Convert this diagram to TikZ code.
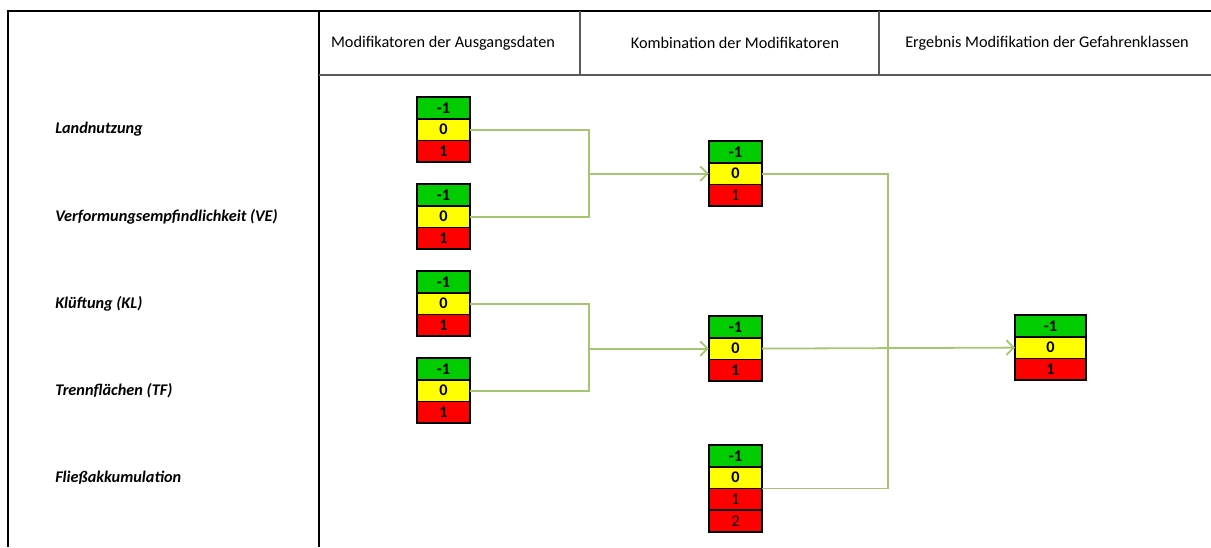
\documentclass[tikz,border=0pt]{standalone}
\usepackage{fontspec}
\setmainfont{Carlito}
\usetikzlibrary{positioning, arrows.meta}
\definecolor{cgreen}{RGB}{0,204,0}
\definecolor{cyellow}{RGB}{255,255,0}
\definecolor{cred}{RGB}{255,0,0}
\definecolor{linkgreen}{RGB}{165,197,115}
\definecolor{gridgray}{RGB}{90,90,90}

\begin{document}
\begin{tikzpicture}[
  x=0.75pt, y=-0.75pt,
  cell/.style={draw, line width=1.4pt, outer sep=0pt, inner sep=0pt, minimum width=40pt, minimum height=16.3pt, font=\fontsize{12.2}{14}\selectfont\bfseries},
  negcell/.style={cell, fill=cgreen},
  zerocell/.style={cell, fill=cyellow},
  poscell/.style={cell, fill=cred},
  plaincell/.style={poscell, font=\fontsize{12.2}{14}\selectfont},
  wide/.style={minimum width=53.25pt},
  head/.style={font=\fontsize{12.2}{14}\selectfont},
  rowlab/.style={anchor=west, inner sep=0pt, font=\fontsize{12.2}{14}\selectfont\bfseries\itshape},
  link/.style={draw=linkgreen, line width=1.35pt},
  op/.style={link, -{Straight Barb[length=5.5pt, width=11pt]}}
]
  \useasboundingbox (0,0) rectangle (1211,547);

  % table frame
  \draw[line width=1.5pt] (8,547) -- (8,11) -- (1211,11);
  \draw[line width=1.5pt] (319,11) -- (319,547);
  \draw[gridgray, line width=1pt] (319,75) -- (1211,75);
  \draw[gridgray, line width=1pt] (580,11) -- (580,75);
  \draw[gridgray, line width=1pt] (879,11) -- (879,75);

  \node[head] (h1) at (443,43) {Modifikatoren der Ausgangsdaten};
  \node[head] (h2) at (735,43) {Kombination der Modifikatoren};
  \node[head] (h3) at (1047,43) {Ergebnis Modifikation der Gefahrenklassen};

  % modifier boxes
  \foreach \n/\x/\y/\s in {l1/443.5/97/poscell, l2/443.5/184/poscell, l3/443.5/271/poscell, l4/443.5/358/poscell,
                           m1/735.5/141/plaincell, m2/735.5/316/poscell} {
    \node[negcell, anchor=north] (\n-m) at (\x,\y) {-1};
    \node[zerocell, below=0pt of \n-m] (\n-z) {0};
    \node[\s, below=0pt of \n-z] (\n-p) {1};
  }
  \node[negcell, anchor=north] (m3-m) at (735.5,445) {-1};
  \node[zerocell, below=0pt of m3-m] (m3-z) {0};
  \node[plaincell, below=0pt of m3-z] (m3-p) {1};
  \node[plaincell, below=0pt of m3-p] (m3-q) {2};

  \node[negcell, wide, anchor=north] (r-m) at (1050.5,315) {-1};
  \node[zerocell, wide, below=0pt of r-m] (r-z) {0};
  \node[poscell, wide, below=0pt of r-z] (r-p) {1};

  % row labels
  \coordinate (labx) at (55,0);
  \node[rowlab] (landn) at (labx |- l1-z) {Landnutzung};
  \node[rowlab] (verf) at (labx |- l2-z) {Verformungsempfindlichkeit (VE)};
  \node[rowlab] (kluft) at (labx |- l3-z) {Klüftung (KL)};
  \node[rowlab] (trenn) at (labx |- l4-z) {Trennflächen (TF)};
  \node[rowlab] (fliess) at (labx |- m3-z) {Fließakkumulation};

  % connections
  \path (m1-z.west) ++(-120,0) coordinate (j1);
  \path (m2-z.west) ++(-120,0) coordinate (j2);
  \path (m2-z.east) ++(126,0) coordinate (j3);
  \draw[link] (l1-z.east) -| (j1);
  \draw[link] (l2-z.east) -| (j1);
  \draw[op] (j1) -- (m1-z.west);
  \draw[link] (l3-z.east) -| (j2);
  \draw[link] (l4-z.east) -| (j2);
  \draw[op] (j2) -- (m2-z.west);
  \draw[link] (m1-z.east) -| (j3) |- (m3-z.south east);
  \draw[op] (m2-z.east) -- (r-z.west);
\end{tikzpicture}
\end{document}
